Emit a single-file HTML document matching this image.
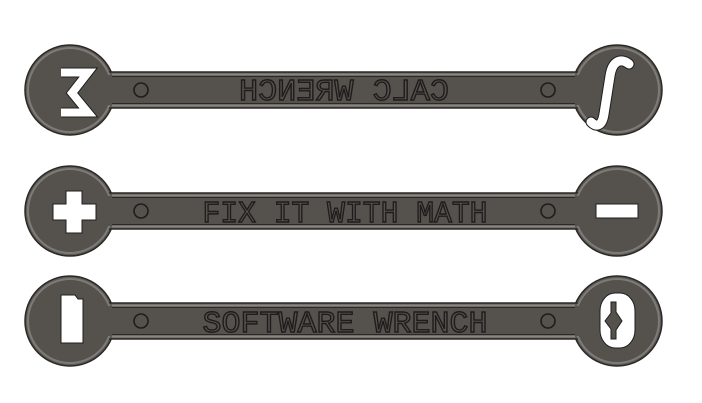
<!DOCTYPE html>
<html><head><style>html,body{margin:0;padding:0;background:#fff}svg{display:block}</style></head><body>
<svg width="702" height="403" viewBox="0 0 702 403" xmlns="http://www.w3.org/2000/svg">
<defs>
<g id="w">
  <circle cx="70" cy="0" r="45" fill="#5e5b56" stroke="#2a2927" stroke-width="1.5"/>
  <circle cx="617" cy="0" r="45" fill="#5e5b56" stroke="#2a2927" stroke-width="1.5"/>
  <rect x="100" y="-18" width="487" height="36" fill="#5e5b56" stroke="#2a2927" stroke-width="1.5"/>
  <circle cx="70" cy="0" r="42" fill="#55524d" stroke="#7e7b76" stroke-width="2"/>
  <circle cx="617" cy="0" r="42" fill="#55524d" stroke="#7e7b76" stroke-width="2"/>
  <rect x="96" y="-15" width="495" height="30" fill="#55524d"/>
  <line x1="112" y1="-15.5" x2="575" y2="-15.5" stroke="#8a8782" stroke-width="2"/>
  <line x1="112" y1="15.5" x2="575" y2="15.5" stroke="#8a8782" stroke-width="2"/>
  <line x1="112" y1="-13.5" x2="575" y2="-13.5" stroke="#2a2927" stroke-width="1"/>
  <line x1="112" y1="13.5" x2="575" y2="13.5" stroke="#2a2927" stroke-width="1"/>
  <circle cx="141" cy="0" r="7" fill="none" stroke="#1e1d1c" stroke-width="1.6"/>
  <circle cx="548" cy="0" r="7" fill="none" stroke="#1e1d1c" stroke-width="1.6"/>
</g>
</defs>
<use href="#w" y="90"/>
<use href="#w" y="211"/>
<use href="#w" y="321"/>
<g font-family="Liberation Mono, monospace" font-size="31" fill="#55524d" stroke="#1e1d1c" stroke-width="1.4" text-anchor="middle">
  <text transform="translate(344,100) scale(-1,1)" textLength="210" lengthAdjust="spacingAndGlyphs">CALC WRENCH</text>
  <text x="345" y="222" textLength="285" lengthAdjust="spacingAndGlyphs">FIX IT WITH MATH</text>
  <text x="345" y="332" textLength="285" lengthAdjust="spacingAndGlyphs">SOFTWARE WRENCH</text>
</g>
<path d="M61 72.5 H88 L72 93 L88 112.5 H61" fill="none" stroke="#1e1d1c" stroke-width="10" stroke-linejoin="miter"/>
<path d="M61 72.5 H88 L72 93 L88 112.5 H61" fill="none" stroke="#fff" stroke-width="8" stroke-linejoin="miter"/>
<g fill="#fff" stroke="#1e1d1c" stroke-width="1">
  <path d="M53 204 H66 V191 H82 V204 H96 V220 H82 V233 H66 V220 H53 Z"/>
  <rect x="596" y="204" width="42" height="14"/>
  <path d="M61 295 H75 L78 299 H83 V343 H61 Z"/>
  <rect x="600" y="293" width="35" height="55" rx="15" ry="18"/>
</g>
<path d="M611 302 V313 L605 321 L611 329 V339 L616 339 V330 L622 321 L616 312 V302 Z" fill="#55524d" stroke="#1e1d1c" stroke-width="1"/>
<path d="M611 302 h-4 v37 h4 Z M616 302 h4 v37 h-4 Z" fill="none"/>
<path d="M629 64 C620 57 612 62 610 76 L604 114 C602 127 596 127 591 122" fill="none" stroke="#1e1d1c" stroke-width="11" stroke-linecap="round"/>
<path d="M629 64 C620 57 612 62 610 76 L604 114 C602 127 596 127 591 122" fill="none" stroke="#fff" stroke-width="9" stroke-linecap="round"/>
</svg>
</body></html>
